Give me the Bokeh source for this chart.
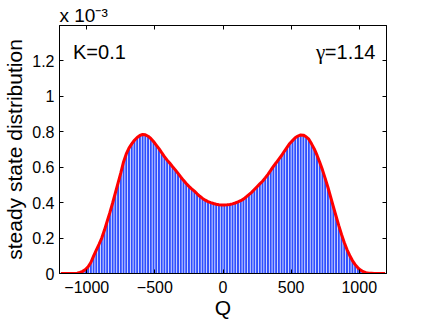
from bokeh.plotting import figure
from bokeh.models import Range1d, FixedTicker, LinearAxis, Label, Title
from bokeh.embed import file_html
from bokeh.resources import INLINE

# bin centres of the histogram (Q)
bin_centers = list(range(-1190, 1200, 20))
bin_width = 20

# steady state distribution, in units of 1e-3
density_e3 = [
    0.0, 0.0, 0.0, 0.0, 0.0,
    0.000, 0.002, 0.006, 0.012, 0.022, 0.038, 0.062, 0.098, 0.132, 0.165,
    0.200, 0.245, 0.295, 0.345, 0.398, 0.455, 0.512, 0.568, 0.630, 0.675,
    0.708, 0.732, 0.752, 0.768, 0.779, 0.785, 0.783, 0.775, 0.762, 0.745,
    0.725, 0.705, 0.682, 0.660, 0.640, 0.622, 0.603, 0.585, 0.565, 0.545,
    0.526, 0.508, 0.492, 0.478, 0.465, 0.450, 0.436, 0.424, 0.414, 0.406,
    0.400, 0.395, 0.391, 0.388, 0.387,
    0.387, 0.388, 0.390, 0.393, 0.398, 0.404, 0.411, 0.420, 0.432, 0.445,
    0.458, 0.474, 0.490, 0.506, 0.521, 0.540, 0.560, 0.582, 0.605, 0.625,
    0.646, 0.666, 0.690, 0.712, 0.734, 0.750, 0.766, 0.776, 0.782, 0.781,
    0.772, 0.758, 0.732, 0.703, 0.668, 0.628, 0.585, 0.537, 0.487, 0.432,
    0.377, 0.323, 0.270, 0.220, 0.175, 0.135, 0.102, 0.073, 0.050, 0.032,
    0.019, 0.010, 0.005, 0.002, 0.001,
    0.0, 0.0, 0.0, 0.0, 0.0,
]

x_ticks = [-1000, -500, 0, 500, 1000]
x_tick_labels = ["\u22121000", "\u2212500", "0", "500", "1000"]
y_ticks = [0, 0.2, 0.4, 0.6, 0.8, 1.0, 1.2]
y_tick_labels = ["0", "0.2", "0.4", "0.6", "0.8", "1", "1.2"]
y_scale_text = "x 10\u207b\u00b3"

FONT = "Liberation Sans"

p = figure(
    frame_width=327, frame_height=248,
    min_border_left=57, min_border_right=39, min_border_top=25, min_border_bottom=46,
    output_backend="svg", toolbar_location=None,
    x_range=Range1d(-1200, 1200), y_range=Range1d(0, 1.4),
    background_fill_color="white", border_fill_color="white",
)
p.grid.visible = False
p.outline_line_color = "black"
p.outline_line_width = 1

p.vbar(x=bin_centers, top=density_e3, bottom=0, width=bin_width * 0.72,
       fill_color="#2f4fff", line_color=None)
p.line(bin_centers, density_e3, line_color="#ff0000", line_width=3)

def style_axis(ax):
    ax.axis_line_color = "black"
    ax.major_tick_line_color = "black"
    ax.minor_tick_line_color = None
    ax.major_tick_in = 4
    ax.major_tick_out = 0
    ax.major_label_text_font = FONT
    ax.major_label_text_color = "black"
    ax.axis_label_text_font = FONT
    ax.axis_label_text_font_style = "normal"
    ax.axis_label_text_color = "black"

xa = p.xaxis[0]
xa.ticker = FixedTicker(ticks=x_ticks)
xa.major_label_overrides = dict(zip(x_ticks, x_tick_labels))
xa.axis_label = "Q"
xa.major_label_text_font_size = "16px"
xa.axis_label_text_font_size = "21px"
xa.major_label_standoff = 7
xa.axis_label_standoff = 0
style_axis(xa)

ya = p.yaxis[0]
ya.ticker = FixedTicker(ticks=y_ticks)
ya.major_label_overrides = dict(zip(y_ticks, y_tick_labels))
ya.axis_label = "steady state distribution"
ya.major_label_text_font_size = "16px"
ya.axis_label_text_font_size = "21px"
ya.major_label_standoff = 5
ya.axis_label_standoff = 3
style_axis(ya)

top_ax = LinearAxis(ticker=FixedTicker(ticks=x_ticks),
                    major_label_overrides={t: "" for t in x_ticks})
style_axis(top_ax)
top_ax.major_label_standoff = 0
top_ax.major_label_text_font_size = "1px"
p.add_layout(top_ax, "above")
right_ax = LinearAxis(ticker=FixedTicker(ticks=y_ticks),
                      major_label_overrides={t: "" for t in y_ticks})
style_axis(right_ax)
right_ax.major_label_standoff = 0
right_ax.major_label_text_font_size = "1px"
p.add_layout(right_ax, "right")

p.add_layout(Title(text=y_scale_text, align="left", text_font=FONT,
                   text_font_size="19px", text_font_style="normal",
                   text_color="black", standoff=0, offset=0), "above")

p.add_layout(Label(x=-1101, y=1.25, text="K=0.1", text_font=FONT,
                   text_font_size="20px", text_color="black",
                   text_baseline="alphabetic"))
p.add_layout(Label(x=1119, y=1.25, text="=1.14", text_font=FONT,
                   text_font_size="20px", text_color="black",
                   text_align="right", text_baseline="alphabetic"))
p.add_layout(Label(x=750, y=1.25, text="\u03b3", text_font="Liberation Serif",
                   text_font_size="21px", text_color="black",
                   text_align="right", text_baseline="alphabetic"))

open("out.html", "w").write(file_html(p, INLINE))
